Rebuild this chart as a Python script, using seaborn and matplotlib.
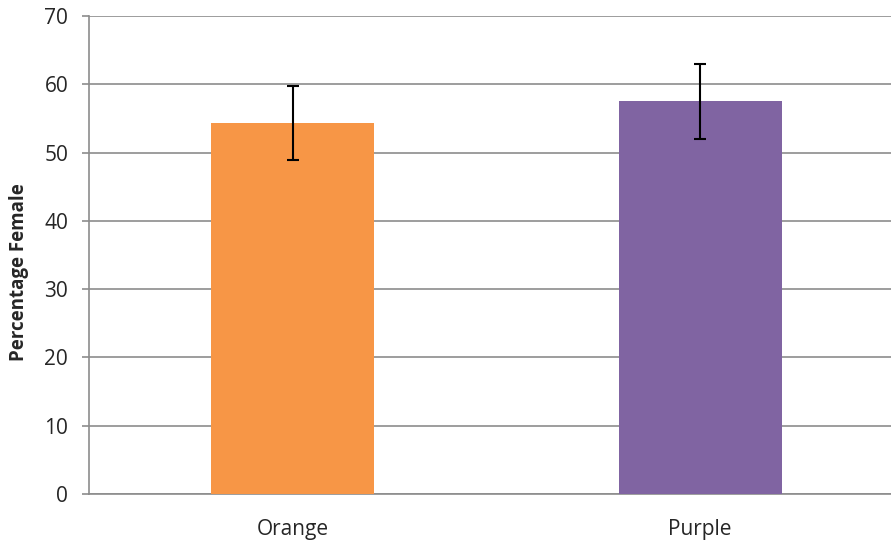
import matplotlib
matplotlib.use("Agg")
import matplotlib.pyplot as plt
import seaborn as sns
import pandas as pd

# Data
groups = ["Orange", "Purple"]
pct_female = [54.3, 57.5]
err = [5.4, 5.45]
bar_colors = ["#F79646", "#8064A2"]

sns.set_style("white")
plt.rcParams["font.family"] = ["Open Sans", "DejaVu Sans"]

df = pd.DataFrame({"Group": groups, "Pct": pct_female})

fig = plt.figure(figsize=(8.91, 5.47), dpi=100)
ax = fig.add_axes([89 / 891, 1 - 494 / 547, 815 / 891, (494 - 16) / 547])

sns.barplot(
    data=df, x="Group", y="Pct", hue="Group",
    palette=bar_colors, width=0.40, errorbar=None,
    legend=False, ax=ax, zorder=3, saturation=1, linewidth=0,
)

# Error bars
ax.errorbar(
    x=range(len(groups)), y=pct_female, yerr=err,
    fmt="none", ecolor="black", elinewidth=1.5,
    capsize=4.5, capthick=1.5, zorder=4,
)

ax.set_ylim(0, 70)
ax.set_yticks(range(0, 71, 10))
ax.set_xlim(-0.5, 1.5)

ax.yaxis.grid(True, color="#8c8c8c", linewidth=1.2, zorder=0)
ax.xaxis.grid(False)
ax.set_axisbelow(True)

for side in ["top", "right"]:
    ax.spines[side].set_visible(False)
for side in ["left", "bottom"]:
    ax.spines[side].set_color("#8c8c8c")
    ax.spines[side].set_linewidth(1.2)

ax.tick_params(axis="y", direction="out", length=5, width=1.2,
               color="#8c8c8c", labelsize=15, pad=10, left=True)
ax.tick_params(axis="x", length=0, labelsize=15, pad=18)

ax.set_xlabel("")
ax.set_ylabel("Percentage Female", fontsize=13.5, fontweight="bold")
ax.yaxis.set_label_coords(-0.074, 0.465)

plt.savefig("out.png", dpi=100)
plt.close()
